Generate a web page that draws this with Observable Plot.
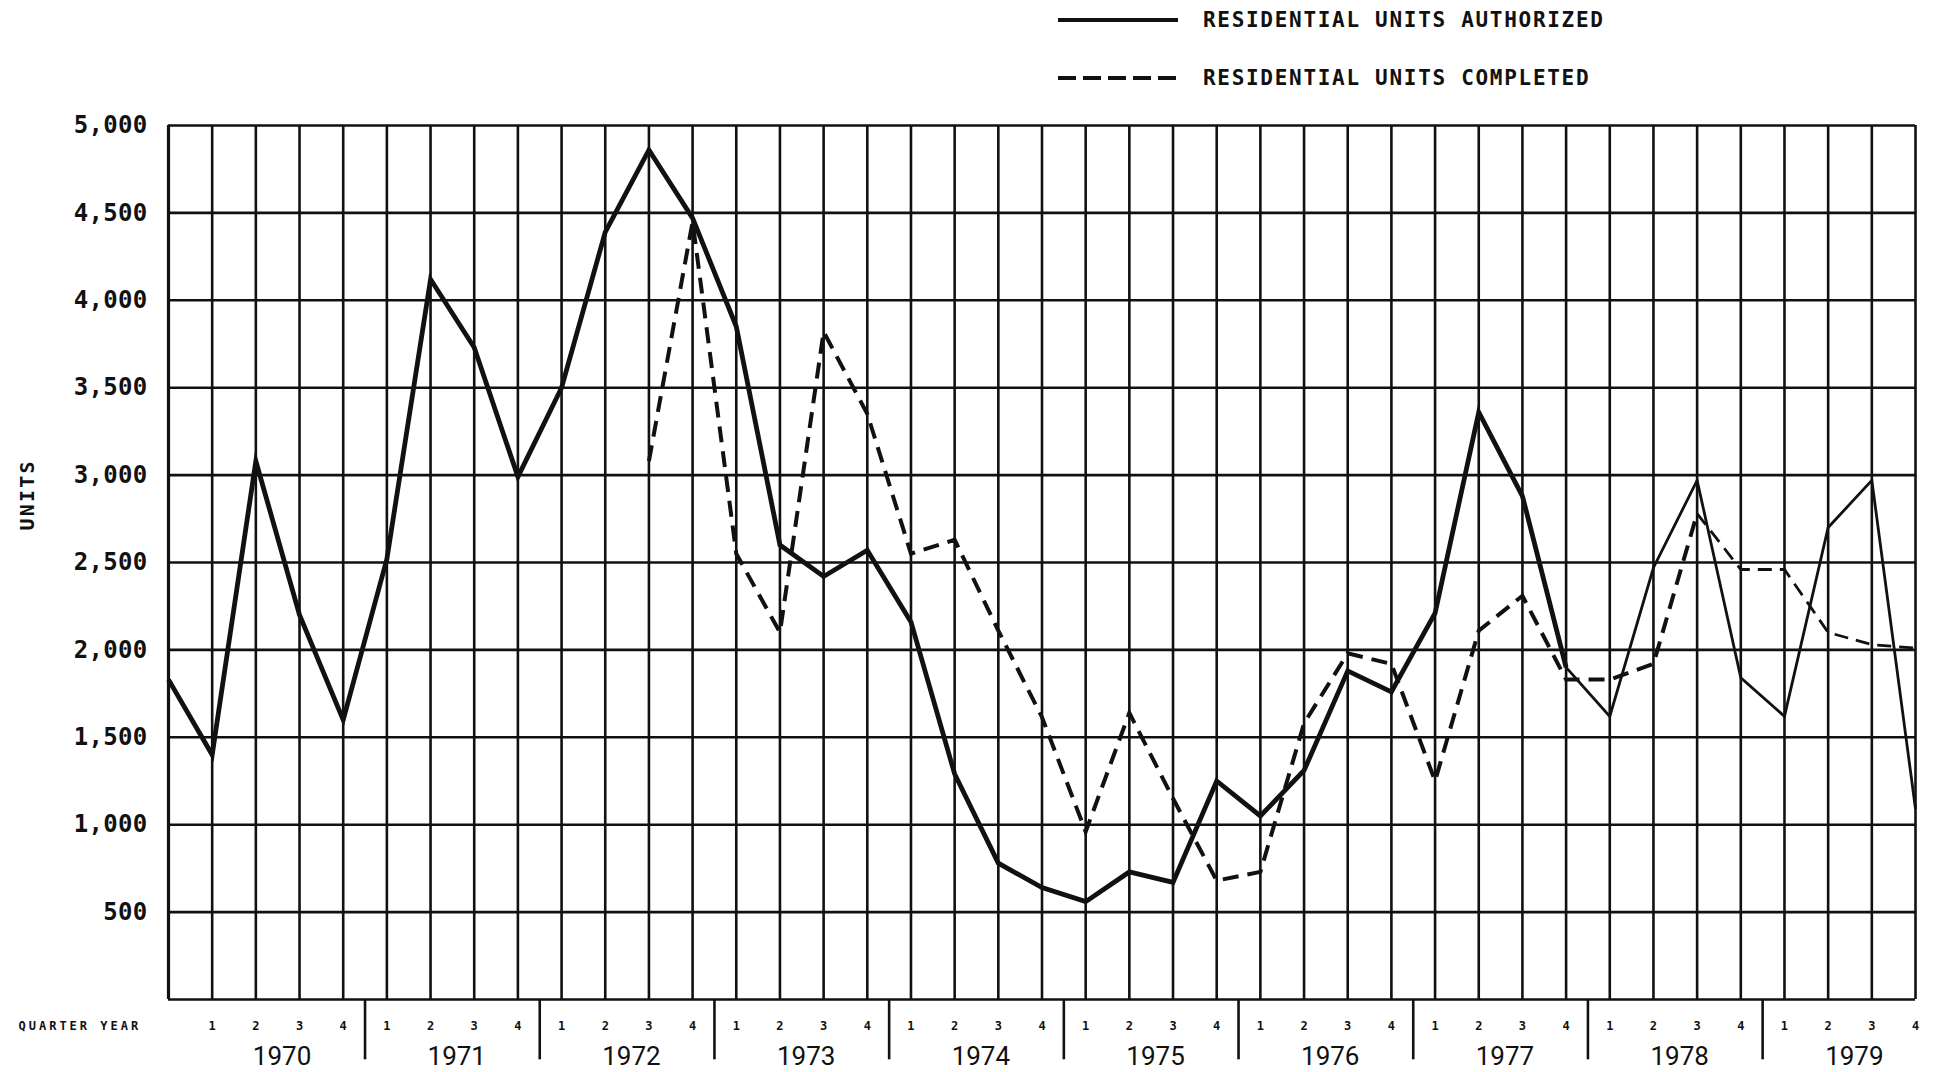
<!DOCTYPE html>
<html><head><meta charset="utf-8">
<script src="https://cdn.jsdelivr.net/npm/d3@7"></script>
<script src="https://cdn.jsdelivr.net/npm/@observablehq/plot@0.6"></script>
<style>
html,body{margin:0;padding:0;background:#fff;}
#wrap{position:relative;width:1934px;height:1072px;overflow:hidden;background:#fff;}
#legend{position:absolute;left:1058px;top:0;width:700px;height:110px;}
.item{position:absolute;left:0;height:26px;white-space:nowrap;display:flex;align-items:center;}
.item svg{display:block;}
.item span{font-family:"DejaVu Sans Mono",monospace;font-weight:bold;font-size:21px;letter-spacing:1.7px;color:#111;margin-left:25px;line-height:26px;}
</style></head><body>
<div id="wrap"><div id="chart"></div><div id="legend"></div></div>
<script>
// ---- data ----
const years = [1970, 1971, 1972, 1973, 1974, 1975, 1976, 1977, 1978, 1979];
const quarterLabels = ["1", "2", "3", "4"];
const yTicks = [500, 1000, 1500, 2000, 2500, 3000, 3500, 4000, 4500, 5000];
// index 0 = 1969 Q4, index 1 = 1970 Q1 ... index 40 = 1979 Q4
const authorized = [1830, 1400, 3080, 2200, 1600, 2520, 4120, 3730, 2990, 3500,
  4390, 4860, 4470, 3850, 2600, 2420, 2570, 2160, 1290, 780,
  640, 560, 730, 670, 1250, 1050, 1310, 1880, 1760, 2210,
  3360, 2880, 1900, 1620, 2470, 2970, 1840, 1620, 2700, 2970, 1090];
const completedStart = 11; // 1972 Q3
const completed = [3080, 4450, 2550, 2100, 3820, 3350, 2550, 2630, 2110, 1615,
  960, 1640, 1150, 680, 730, 1580, 1980, 1920, 1250, 2110,
  2310, 1830, 1830, 1920, 2780, 2460, 2460, 2100, 2030, 2010];
const seriesNames = ["RESIDENTIAL UNITS AUTHORIZED", "RESIDENTIAL UNITS COMPLETED"];

// ---- derived tables ----
const auth = authorized.map((v, i) => ({i, v}));
const comp = completed.map((v, k) => ({i: completedStart + k, v}));
const quarters = years.flatMap(y => quarterLabels.map(q => ({year: y, q})));
const gridX = d3.range(0, quarters.length + 1);
const gridY = [0, ...yTicks];

const mono = "DejaVu Sans Mono, monospace";
const ink = "#111";

const chart = Plot.plot({
  width: 1934,
  height: 1072,
  marginLeft: 168,
  marginRight: 19,
  marginTop: 125,
  marginBottom: 73,
  x: {domain: [0, quarters.length], axis: null},
  y: {domain: [0, 5000], axis: null},
  style: {background: "#fff", color: ink, overflow: "visible"},
  marks: [
    Plot.ruleY(gridY, {stroke: ink, strokeWidth: 2.6}),
    Plot.ruleX(gridX, {stroke: ink, strokeWidth: 2.6}),
    Plot.ruleX([0], {stroke: ink, strokeWidth: 3.2}),
    Plot.ruleX(years.slice(1), {x: y => (y - years[0]) * 4 + 0.5, y1: 0, y2: -345, stroke: ink, strokeWidth: 2.6}),
    Plot.line(auth.filter(d => d.i <= 32), {x: "i", y: "v", stroke: ink, strokeWidth: 4.8, strokeLinejoin: "miter", strokeMiterlimit: 5, strokeLinecap: "butt"}),
    Plot.line(auth.filter(d => d.i >= 32), {x: "i", y: "v", stroke: ink, strokeWidth: 2.8, strokeLinejoin: "miter", strokeMiterlimit: 5, strokeLinecap: "butt"}),
    Plot.line(comp.filter(d => d.i <= 35), {x: "i", y: "v", stroke: ink, strokeWidth: 4, strokeDasharray: "16,9", strokeLinejoin: "miter", strokeMiterlimit: 5, strokeLinecap: "butt"}),
    Plot.line(comp.filter(d => d.i >= 35), {x: "i", y: "v", stroke: ink, strokeWidth: 2.8, strokeDasharray: "14,8", strokeLinejoin: "miter", strokeMiterlimit: 5, strokeLinecap: "butt"}),
    Plot.text(yTicks, {y: d => d, text: d => d3.format(",")(d), frameAnchor: "left", textAnchor: "end", dx: -21, fontFamily: mono, fontSize: 24, fontWeight: "bold", fill: ink}),
    Plot.text(quarters, {x: (d, i) => i + 1, text: d => d.q, frameAnchor: "bottom", dy: 30, fontFamily: mono, fontSize: 12, fontWeight: "bold", fill: ink}),
    Plot.text(years, {x: (d, i) => i * 4 + 2.6, text: d => String(d), frameAnchor: "bottom", dy: 65, fontFamily: "Roboto, sans-serif", fontSize: 26, fill: ink}),
    Plot.text(["QUARTER YEAR"], {text: d => d, frameAnchor: "bottom-left", textAnchor: "start", dx: -150, dy: 30, fontFamily: mono, fontSize: 12, fontWeight: "bold", fill: ink}),
    Plot.text(["UNITS"], {text: d => d, frameAnchor: "left", rotate: -90, dx: -141, dy: -32, fontFamily: mono, fontSize: 20, fontWeight: "bold", fill: ink})
  ]
});
document.getElementById("chart").appendChild(chart);

// letter spacing per text group (in mark order)
const spacing = ["0.3px", "0px", "0px", "3px", "2.2px"];
chart.querySelectorAll('g[aria-label="text"]').forEach((g, k) => {
  if (spacing[k]) g.style.letterSpacing = spacing[k];
});

// legend
const legend = document.getElementById("legend");
const tops = [7, 65];
seriesNames.forEach((name, k) => {
  const item = document.createElement("div");
  item.className = "item";
  item.style.top = tops[k] + "px";
  const dash = k === 0 ? "" : ` stroke-dasharray="18,7"`;
  item.innerHTML = `<svg width="120" height="26"><line x1="0" x2="120" y1="13" y2="13" stroke="${ink}" stroke-width="4"${dash}/></svg><span>${name}</span>`;
  legend.appendChild(item);
});
</script>
</body></html>
